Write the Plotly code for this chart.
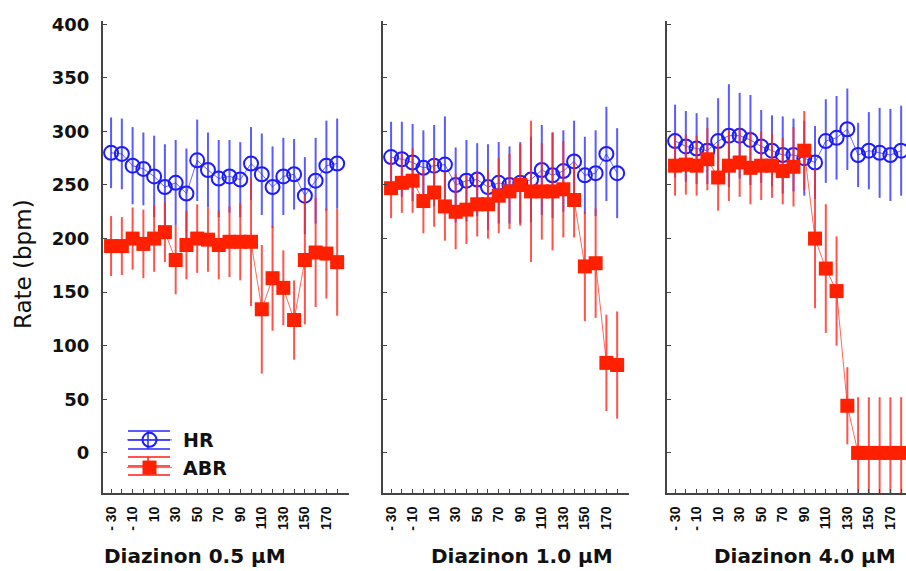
import plotly.graph_objects as go

# Sampling times (min) relative to exposure start
minutes = [-30, -20, -10, 0, 10, 20, 30, 40, 50, 60, 70, 80, 90, 100,
           110, 120, 130, 140, 150, 160, 170, 180]
tick_vals = [-30, -10, 10, 30, 50, 70, 90, 110, 130, 150, 170]
tick_text = ["- 30", "- 10", "10", "30", "50", "70", "90", "110", "130", "150", "170"]
y_tick_vals = [0, 50, 100, 150, 200, 250, 300, 350, 400]

panel_titles = ["Diazinon 0.5 μM", "Diazinon 1.0 μM", "Diazinon 4.0 μM"]
series_names = ["HR", "ABR"]

# Heart rate (HR) and atrial beat rate (ABR), mean and SD, bpm
hr_05 = [280, 279, 268, 265, 258, 248, 252, 242, 273, 264, 256, 258, 255, 270,
         260, 248, 258, 260, 240, 254, 268, 270]
hr_05_sd = [33, 33, 36, 34, 38, 40, 40, 42, 38, 35, 36, 34, 35, 34,
            38, 38, 36, 33, 36, 40, 42, 42]
abr_05 = [193, 193, 200, 195, 200, 206, 180, 194, 200, 199, 194, 197, 197, 197,
          134, 163, 154, 124, 180, 187, 186, 178]
abr_05_sd = [28, 27, 29, 32, 31, 28, 32, 32, 32, 30, 32, 33, 36, 60,
             60, 49, 35, 37, 60, 51, 42, 50]

hr_10 = [276, 274, 271, 266, 268, 269, 250, 254, 255, 248, 252, 250, 252, 255,
         264, 259, 263, 272, 259, 261, 279, 261]
hr_10_sd = [33, 35, 36, 35, 38, 45, 35, 38, 34, 40, 38, 36, 38, 40,
            42, 40, 38, 38, 36, 40, 44, 42]
abr_10 = [247, 252, 254, 235, 243, 230, 225, 227, 232, 232, 240, 244, 250, 244,
          244, 244, 246, 236, 174, 177, 84, 82]
abr_10_sd = [28, 28, 30, 30, 32, 32, 35, 32, 30, 32, 35, 35, 38, 66,
             45, 55, 45, 35, 51, 51, 45, 50]

hr_40 = [291, 286, 284, 282, 291, 296, 296, 292, 286, 282, 278, 278, 275, 271,
         291, 294, 302, 278, 282, 280, 278, 282]
hr_40_sd = [34, 33, 33, 31, 40, 48, 40, 42, 34, 33, 36, 34, 35, 34,
            39, 39, 38, 30, 36, 42, 43, 42]
abr_40 = [268, 269, 268, 274, 257, 268, 271, 266, 268, 268, 263, 267, 282, 200,
          172, 151, 44, 0, 0, 0, 0, 0]
abr_40_sd = [28, 28, 28, 29, 31, 33, 32, 34, 32, 30, 31, 37, 37, 65,
             60, 51, 36, 52, 52, 52, 52, 52]

panels = [
    (hr_05, hr_05_sd, abr_05, abr_05_sd),
    (hr_10, hr_10_sd, abr_10, abr_10_sd),
    (hr_40, hr_40_sd, abr_40, abr_40_sd),
]

W, H = 906, 571
BLUE = "#1c1cff"
RED = "#ff2000"
BLUE_BAR = "rgba(50,50,255,0.8)"
RED_BAR = "rgba(255,40,30,0.8)"
AXIS = "#444444"
BOLD = "DejaVu Sans, Arial, sans-serif"
ARIAL = "Liberation Sans, Arial, sans-serif"

# panel frames in pixels (left, right) and shared vertical extent
x_px = [(103, 349), (383, 629), (667, 906)]
y_px = (21, 493)
x_lo = -37.5
px_per_min = 246 / 228.5


def legend_label(name):
    # a little extra room between the key and its label
    return "&nbsp;<b>" + name + "</b>"


fig = go.Figure()

for i, (hr, hr_sd, abr, abr_sd) in enumerate(panels):
    xa = "x" if i == 0 else f"x{i + 1}"
    ya = "y" if i == 0 else f"y{i + 1}"
    fig.add_trace(go.Scatter(
        x=minutes, y=hr, xaxis=xa, yaxis=ya, name=legend_label(series_names[0]),
        legendgroup="hr", mode="lines+markers", showlegend=(i == 0),
        line=dict(color="rgba(40,40,255,0.7)", width=1),
        marker=dict(symbol="circle-open", size=14, color=BLUE,
                    line=dict(width=2, color=BLUE)),
        error_y=dict(type="data", array=hr_sd, visible=True, width=0,
                     thickness=2, color=BLUE_BAR),
    ))
    fig.add_trace(go.Scatter(
        x=minutes, y=abr, xaxis=xa, yaxis=ya, name=legend_label(series_names[1]),
        legendgroup="abr", mode="lines+markers", showlegend=(i == 0),
        line=dict(color="rgba(255,40,20,0.7)", width=1),
        marker=dict(symbol="square", size=14, color=RED),
        error_y=dict(type="data", array=abr_sd, visible=True, width=0,
                     thickness=2, color=RED_BAR),
    ))

    left, right = x_px[i]
    x_hi = x_lo + (right - left) / px_per_min
    xaxis = dict(
        domain=[left / W, right / W], range=[x_lo, x_hi], anchor=ya,
        showline=True, linewidth=2, linecolor=AXIS, mirror=False,
        showgrid=False, zeroline=False,
        tickmode="array", tickvals=minutes,
        ticktext=[f"<b>{tick_text[tick_vals.index(m)]}</b>" if m in tick_vals else ""
                  for m in minutes],
        ticks="inside", ticklen=4, tickwidth=1, tickcolor=AXIS,
        tickangle=-90, ticklabelstandoff=6,
        tickfont=dict(family=ARIAL, size=14, color="#111111"),
        automargin=False, fixedrange=True,
    )
    yaxis = dict(
        domain=[(H - y_px[1]) / H, (H - y_px[0]) / H], range=[-37.4, 403],
        anchor=xa, showline=True, linewidth=2, linecolor=AXIS,
        showgrid=False, zeroline=False,
        tickmode="array", tickvals=y_tick_vals,
        ticktext=[f"<b>{v}</b>" for v in y_tick_vals],
        ticks="inside", ticklen=4, tickwidth=1, tickcolor=AXIS,
        showticklabels=(i == 0), ticklabelstandoff=8,
        tickfont=dict(family=BOLD, size=18, color="#111111"),
        automargin=False, fixedrange=True,
    )
    if i > 0:
        yaxis["matches"] = "y"
    fig.update_layout(**{("xaxis" if i == 0 else f"xaxis{i + 1}"): xaxis,
                         ("yaxis" if i == 0 else f"yaxis{i + 1}"): yaxis})

# panel captions under each x axis
caption_x = [195, 522, 805]
annotations = []
for cx, title in zip(caption_x, panel_titles):
    annotations.append(dict(
        text=f"<b>{title}</b>", x=cx / W, y=1 - 556 / H, xref="paper", yref="paper",
        xanchor="center", yanchor="middle", showarrow=False,
        font=dict(family=BOLD, size=20, color="#111111"),
    ))
annotations.append(dict(
    text="Rate (bpm)", x=23 / W, y=1 - 264 / H, xref="paper", yref="paper",
    xanchor="center", yanchor="middle", showarrow=False, textangle=-90,
    font=dict(family="DejaVu Sans, Arial, sans-serif", size=23, color="#111111"),
))

# whisker lines of the legend keys (three horizontal rules plus a vertical bar)
shapes = []
for yy, col in [(431, BLUE_BAR), (440, BLUE_BAR), (449, BLUE_BAR),
                (457, RED_BAR), (466, RED_BAR), (475, RED_BAR)]:
    shapes.append(dict(type="line", xref="paper", yref="paper",
                       x0=128 / W, x1=170 / W, y0=1 - yy / H, y1=1 - yy / H,
                       line=dict(color=col, width=2)))
for y0, y1, col in [(431, 449, BLUE_BAR), (457, 475, RED_BAR)]:
    shapes.append(dict(type="line", xref="paper", yref="paper",
                       x0=148 / W, x1=148 / W, y0=1 - y0 / H, y1=1 - y1 / H,
                       line=dict(color=col, width=2)))

fig.update_layout(
    width=W, height=H,
    margin=dict(l=0, r=0, t=0, b=0),
    paper_bgcolor="white", plot_bgcolor="white",
    annotations=annotations, shapes=shapes,
    legend=dict(x=122 / W, y=1 - 421 / H, xanchor="left", yanchor="top",
                bgcolor="rgba(0,0,0,0)", borderwidth=0, tracegroupgap=0,
                itemsizing="trace", itemwidth=45,
                font=dict(family=BOLD, size=19, color="#111111")),
)

fig.write_html("out.html")
